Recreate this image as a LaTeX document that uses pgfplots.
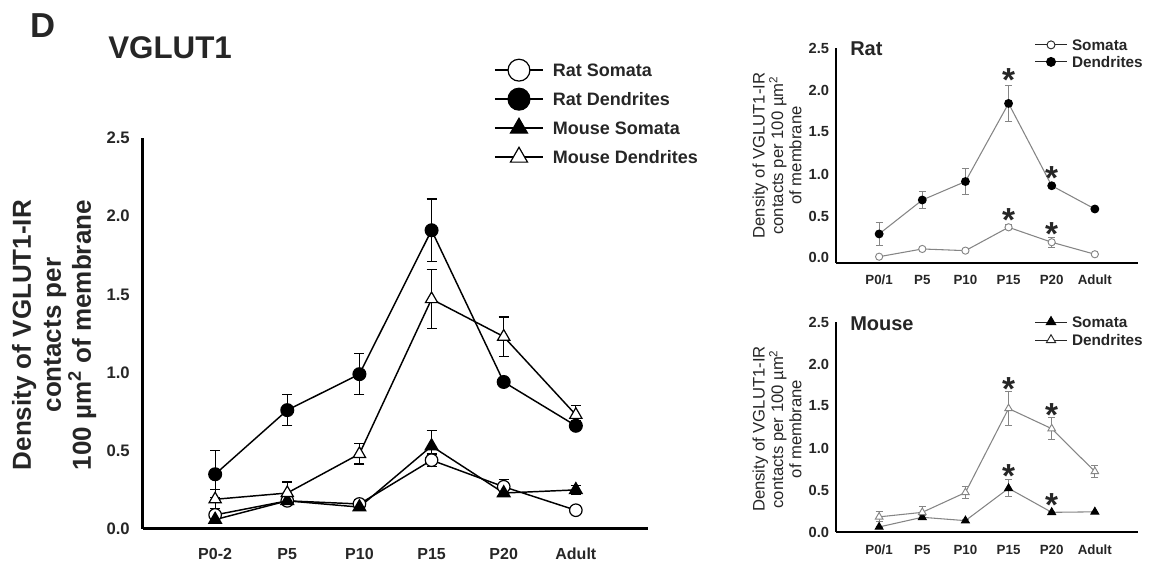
\documentclass[border=0pt]{standalone}
\usepackage{pgfplots}
\pgfplotsset{compat=1.18}
\usepackage{pgfplotstable}
\usepackage{fontspec}
\setmainfont{Liberation Sans}
\definecolor{pg}{HTML}{858585}
\definecolor{tk}{HTML}{262626}

\pgfplotstableread{
x y e
0 0.09 0.03
1 0.18 0.02
2 0.16 0.03
3 0.44 0.04
4 0.27 0.045
5 0.12 0.02
}\RS
\pgfplotstableread{
x y e
0 0.35 0.15
1 0.76 0.10
2 0.99 0.13
3 1.91 0.20
4 0.94 0.02
5 0.66 0.03
}\RD
\pgfplotstableread{
x y e
0 0.06 0.01
1 0.18 0.02
2 0.14 0.02
3 0.53 0.10
4 0.23 0.02
5 0.25 0.03
}\MS
\pgfplotstableread{
x y e
0 0.19 0.06
1 0.23 0.07
2 0.48 0.065
3 1.47 0.19
4 1.23 0.125
5 0.73 0.06
}\MD
\pgfplotstableread{
x y e
0 0.015 0.01
1 0.107 0.015
2 0.087 0.02
3 0.365 0.03
4 0.187 0.06
5 0.044 0.01
}\rS
\pgfplotstableread{
x y e
0 0.286 0.135
1 0.69 0.10
2 0.91 0.15
3 1.84 0.21
4 0.86 0.02
5 0.583 0.02
}\rD
\pgfplotstableread{
x y e
0 0.06 0.01
1 0.175 0.02
2 0.135 0.01
3 0.52 0.10
4 0.234 0.01
5 0.24 0.01
}\mS
\pgfplotstableread{
x y e
0 0.18 0.06
1 0.234 0.07
2 0.47 0.075
3 1.47 0.20
4 1.23 0.13
5 0.72 0.07
}\mD

\pgfplotsset{
  mainerr/.style={error bars/y dir=both, error bars/y explicit,
    error bars/error mark options={rotate=90, black, line width=0.9pt, mark size=3.75pt},
    error bars/error bar style={black, line width=0.9pt}},
  smallerr/.style={error bars/y dir=both, error bars/y explicit,
    error bars/error mark options={rotate=90, pg, line width=0.7pt, mark size=2.6pt},
    error bars/error bar style={pg, line width=0.7pt}},
  smallaxis/.style={
    scale only axis, width=226.5pt,
    xmin=-1, xmax=6,
    axis x line=bottom, axis y line=left,
    axis line style={-, line width=1.6pt, black},
    xtick={0,...,5}, xticklabels={P0/1,P5,P10,P15,P20,Adult},
    ytick={0,0.5,1,1.5,2,2.5}, yticklabels={0.0,0.5,1.0,1.5,2.0,2.5},
    major tick length=0pt, tick align=inside,
    yticklabel style={anchor=east, inner sep=0pt, xshift=-5pt, font=\fontsize{11}{12}\selectfont\bfseries, text=tk},
    xticklabel style={anchor=base, inner sep=0pt, font=\fontsize{10}{12}\selectfont\bfseries, text=tk},
    every axis y label/.style={at={(axis description cs:-0.195,0.5)}, rotate=90, anchor=center, align=center,
      font=\fontsize{12.5}{13.8}\selectfont, text=tk},
    ylabel={Density of VGLUT1-IR\\contacts per 100 µm\textsuperscript{2}\\of membrane},
    clip=false,
    legend cell align=left,
  },
}
\tikzset{ast/.style={anchor=base, inner sep=0pt, font=\fontsize{25}{25}\selectfont\bfseries, text=tk, yshift=-13.9pt}}

\begin{document}
\begin{tikzpicture}
\path[use as bounding box] (0,0) rectangle (868.5pt,427.5pt);

\node[anchor=west, inner sep=0pt, font=\fontsize{26}{28}\selectfont\bfseries, text=tk] at (22.5pt,408.4pt) {D};
\node[anchor=west, inner sep=0pt, font=\fontsize{23.5}{26}\selectfont\bfseries, text=tk] at (81pt,391.5pt) {VGLUT1};

% ---------------- main chart
\begin{axis}[
  at={(107.25pt,30.75pt)}, anchor=south west,
  scale only axis, width=378.75pt, height=293.25pt,
  xmin=-1, xmax=6, ymin=0, ymax=2.5,
  axis x line=bottom, axis y line=left,
  axis line style={-, line width=2.25pt, black},
  xtick={0,...,5}, xticklabels={P0-2,P5,P10,P15,P20,Adult},
  ytick={0,0.5,1,1.5,2,2.5}, yticklabels={0.0,0.5,1.0,1.5,2.0,2.5},
  major tick length=0pt, tick align=inside,
  yticklabel style={anchor=east, inner sep=0pt, xshift=-9.75pt, font=\fontsize{12.5}{14}\selectfont\bfseries, text=tk},
  xticklabel style={anchor=base, inner sep=0pt, yshift=-23.25pt, font=\fontsize{12}{14}\selectfont\bfseries, text=tk},
  every axis y label/.style={at={(axis description cs:-0.1758,0.496)}, rotate=90, anchor=center, align=center,
    font=\fontsize{19.5}{22.5}\selectfont\bfseries, text=tk},
  ylabel={Density of VGLUT1-IR\\contacts per\\100 µm\textsuperscript{2} of membrane},
  clip=false,
  legend cell align=left,
  legend style={at={(0.697,1.19)}, anchor=north west, draw=none, fill=none,
    inner sep=0pt, outer sep=0pt, row sep=12.05pt, column sep=7.5pt,
    nodes={inner sep=0pt, text height=9.7pt, text depth=0pt,
      font=\fontsize{13.5}{15}\selectfont\bfseries, text=tk}},
]
\addplot[black, line width=1.1pt, mark=*, mark size=4.7pt, mark options={fill=white, line width=0.9pt, solid}, mainerr,
  legend image code/.code={
    \path[draw=none, fill=none] (0pt,-4pt) rectangle (36pt,4pt);
    \draw[overlay, black, line width=1.1pt] (0pt,0pt) -- (36pt,0pt);
    \draw[overlay, black, fill=white, line width=0.9pt] (18pt,0pt) circle (8.2pt);}]
  table[x=x, y=y, y error=e] {\RS};
\addlegendentry{Rat Somata}
\addplot[black, line width=1.1pt, mark=*, mark size=4.7pt, mark options={fill=black, solid}, mainerr,
  legend image code/.code={
    \path[draw=none, fill=none] (0pt,-4pt) rectangle (36pt,4pt);
    \draw[overlay, black, line width=1.1pt] (0pt,0pt) -- (36pt,0pt);
    \draw[overlay, black, fill=black, line width=0.9pt] (18pt,0pt) circle (8.2pt);}]
  table[x=x, y=y, y error=e] {\RD};
\addlegendentry{Rat Dendrites}
\addplot[black, line width=1.1pt, mark=triangle*, mark size=5.3pt, mark options={fill=black, solid}, mainerr,
  legend image code/.code={
    \path[draw=none, fill=none] (0pt,-4pt) rectangle (36pt,4pt);
    \draw[overlay, black, line width=1.1pt] (0pt,0pt) -- (36pt,0pt);
    \draw[overlay, black, fill=black, line width=0.9pt] (18pt,7.4pt) -- (11.6pt,-3.7pt) -- (24.4pt,-3.7pt) -- cycle;}]
  table[x=x, y=y, y error=e] {\MS};
\addlegendentry{Mouse Somata}
\addplot[black, line width=1.1pt, mark=triangle*, mark size=5.3pt, mark options={fill=white, line width=0.9pt, solid}, mainerr,
  legend image code/.code={
    \path[draw=none, fill=none] (0pt,-4pt) rectangle (36pt,4pt);
    \draw[overlay, black, line width=1.1pt] (0pt,0pt) -- (36pt,0pt);
    \draw[overlay, black, fill=white, line width=0.9pt] (18pt,7.4pt) -- (11.6pt,-3.7pt) -- (24.4pt,-3.7pt) -- cycle;}]
  table[x=x, y=y, y error=e] {\MD};
\addlegendentry{Mouse Dendrites}
\end{axis}

% ---------------- rat panel
\node[anchor=west, inner sep=0pt, font=\fontsize{15}{17}\selectfont\bfseries, text=tk] at (637.5pt,390.75pt) {Rat};
\begin{axis}[smallaxis,
  at={(627pt,230.25pt)}, anchor=south west, height=161.25pt,
  ymin=-0.06, ymax=2.5,
  xticklabel style={yshift=-16.3pt},
  legend style={at={(0.659,1.04)}, anchor=north west, draw=none, fill=none,
    inner sep=0pt, outer sep=0pt, row sep=4.5pt, column sep=3.75pt,
    nodes={inner sep=0pt, text height=8.25pt, text depth=0pt,
      font=\fontsize{11.5}{13}\selectfont\bfseries, text=tk}},
]
\addplot[pg, line width=0.8pt, mark=*, mark size=2.7pt, mark options={draw=pg, fill=white, line width=0.7pt, solid}, smallerr,
  legend image code/.code={
    \path[draw=none, fill=none] (0pt,-3pt) rectangle (24pt,3pt);
    \draw[overlay, tk, line width=0.8pt] (0pt,0pt) -- (24pt,0pt);
    \draw[overlay, tk, fill=white, line width=0.7pt] (12pt,0pt) circle (3pt);}]
  table[x=x, y=y, y error=e] {\rS};
\addlegendentry{Somata}
\addplot[pg, line width=0.8pt, mark=*, mark size=2.9pt, mark options={draw=black, fill=black, solid}, smallerr,
  legend image code/.code={
    \path[draw=none, fill=none] (0pt,-3pt) rectangle (24pt,3pt);
    \draw[overlay, tk, line width=0.8pt] (0pt,0pt) -- (24pt,0pt);
    \draw[overlay, black, fill=black] (12pt,0pt) circle (3.3pt);}]
  table[x=x, y=y, y error=e] {\rD};
\addlegendentry{Dendrites}
\node[ast] at (axis cs:3,2.2) {*};
\node[ast] at (axis cs:4,1.04) {*};
\node[ast] at (axis cs:3,0.53) {*};
\node[ast] at (axis cs:4,0.37) {*};
\end{axis}

% ---------------- mouse panel
\node[anchor=west, inner sep=0pt, font=\fontsize{15}{17}\selectfont\bfseries, text=tk] at (637.5pt,184.9pt) {Mouse};
\begin{axis}[smallaxis,
  at={(627pt,28.5pt)}, anchor=south west, height=157.5pt,
  ymin=0, ymax=2.5,
  xticklabel style={yshift=-17.1pt},
  every axis y label/.append style={at={(axis description cs:-0.195,0.49)}},
  legend style={at={(0.659,1.026)}, anchor=north west, draw=none, fill=none,
    inner sep=0pt, outer sep=0pt, row sep=5.25pt, column sep=3.75pt,
    nodes={inner sep=0pt, text height=8.25pt, text depth=0pt,
      font=\fontsize{11.5}{13}\selectfont\bfseries, text=tk}},
]
\addplot[pg, line width=0.8pt, mark=triangle*, mark size=3.3pt, mark options={draw=black, fill=black, solid}, smallerr,
  legend image code/.code={
    \path[draw=none, fill=none] (0pt,-3pt) rectangle (24pt,3pt);
    \draw[overlay, tk, line width=0.8pt] (0pt,0pt) -- (24pt,0pt);
    \draw[overlay, black, fill=black] (12pt,4pt) -- (8.5pt,-2pt) -- (15.5pt,-2pt) -- cycle;}]
  table[x=x, y=y, y error=e] {\mS};
\addlegendentry{Somata}
\addplot[pg, line width=0.8pt, mark=triangle*, mark size=3.3pt, mark options={draw=pg, fill=white, line width=0.7pt, solid}, smallerr,
  legend image code/.code={
    \path[draw=none, fill=none] (0pt,-3pt) rectangle (24pt,3pt);
    \draw[overlay, tk, line width=0.8pt] (0pt,0pt) -- (24pt,0pt);
    \draw[overlay, tk, fill=white, line width=0.7pt] (12pt,4pt) -- (8.5pt,-2pt) -- (15.5pt,-2pt) -- cycle;}]
  table[x=x, y=y, y error=e] {\mD};
\addlegendentry{Dendrites}
\node[ast] at (axis cs:3,1.79) {*};
\node[ast] at (axis cs:4,1.48) {*};
\node[ast] at (axis cs:3,0.75) {*};
\node[ast] at (axis cs:4,0.41) {*};
\end{axis}
\end{tikzpicture}
\end{document}
